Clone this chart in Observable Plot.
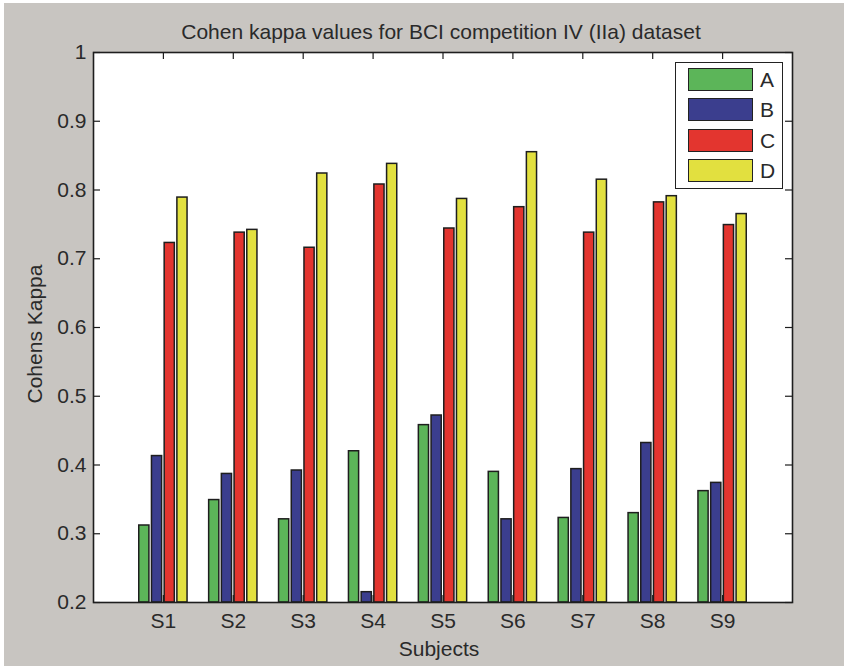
<!DOCTYPE html>
<html><head><meta charset="utf-8">
<script src="https://cdn.jsdelivr.net/npm/d3@7"></script>
<script src="https://cdn.jsdelivr.net/npm/@observablehq/plot@0.6"></script>
<style>
html,body{margin:0;padding:0;background:#c8c5c1;}
#wrap{position:relative;width:844px;height:666px;background:#c8c5c1;overflow:hidden;font-family:"Liberation Sans",Arial,sans-serif;color:#2a2a2a;}
#wrap svg{position:absolute;left:0;top:0;}
.txt{position:absolute;font-size:21px;line-height:21px;white-space:nowrap;}
#legend{position:absolute;left:675px;top:62px;width:108px;height:127px;box-sizing:border-box;border:1.5px solid #222;background:#fff;}
.patch{position:absolute;left:12px;width:65px;height:23px;box-sizing:border-box;border:1.5px solid #222;}
.lab{position:absolute;left:84px;font-size:21px;line-height:23px;color:#2a2a2a;}
#edgeTop{position:absolute;left:0;top:0;width:844px;height:3px;background:#fff;}
#edgeLeft{position:absolute;left:0;top:0;width:4px;height:666px;background:#fff;}
</style></head>
<body><div id="wrap"></div>
<script>
// ---- data ----
const subjects = ["S1","S2","S3","S4","S5","S6","S7","S8","S9"];
const seriesNames = ["A","B","C","D"];
const valuesA = [0.312,0.349,0.321,0.420,0.458,0.390,0.323,0.330,0.362];
const valuesB = [0.413,0.387,0.392,0.215,0.472,0.321,0.394,0.432,0.374];
const valuesC = [0.723,0.738,0.716,0.808,0.744,0.775,0.738,0.782,0.749];
const valuesD = [0.789,0.742,0.824,0.838,0.787,0.855,0.815,0.791,0.765];
const seriesColors = ["#5cb559","#3b3e8e","#e3352f","#e2e03f"];
const yTicks = [0.2,0.3,0.4,0.5,0.6,0.7,0.8,0.9,1];
const yDomain = [0.2,1];
const xDomain = [0,10];
const title = "Cohen kappa values for BCI competition IV (IIa) dataset";
const xLabel = "Subjects";
const yLabel = "Cohens Kappa";

// ---- build ----
const seriesValues = [valuesA,valuesB,valuesC,valuesD];
const nS = seriesNames.length;
const groupWidth = Math.min(0.8, nS/(nS+1.5));
const barWidth = groupWidth/nS*0.8;
const positions = subjects.map((s,i)=>i+1);
const rows = [];
subjects.forEach((s,i)=>seriesNames.forEach((n,k)=>rows.push({subject:s,pos:i+1,series:n,k,value:seriesValues[k][i]})));
const center = d => d.pos + (d.k-(nS-1)/2)*groupWidth/nS;

const W=844,H=666,mL=93,mR=52,mT=52,mB=64;
const pw=W-mL-mR, ph=H-mT-mB, tl=7;
const ink="#1e1e1e";

const chart = Plot.plot({
  width:W,height:H,marginLeft:mL,marginRight:mR,marginTop:mT,marginBottom:mB,
  style:{background:"transparent",fontFamily:"'Liberation Sans',Arial,sans-serif",color:"#2a2a2a",overflow:"visible"},
  x:{domain:xDomain,axis:null},
  y:{domain:yDomain,axis:null},
  color:{domain:seriesNames,range:seriesColors},
  marks:[
    Plot.frame({fill:"#fff"}),
    Plot.rectY(rows,{x1:d=>center(d)-barWidth/2,x2:d=>center(d)+barWidth/2,y1:yDomain[0],y2:"value",fill:"series",stroke:ink,strokeWidth:1.5}),
    Plot.tickX(positions,{x:d=>d,insetTop:ph-tl,stroke:ink,strokeWidth:1.2}),
    Plot.tickX(positions,{x:d=>d,insetBottom:ph-tl,stroke:ink,strokeWidth:1.2}),
    Plot.tickY(yTicks,{y:d=>d,insetRight:pw-tl,stroke:ink,strokeWidth:1.2}),
    Plot.tickY(yTicks,{y:d=>d,insetLeft:pw-tl,stroke:ink,strokeWidth:1.2}),
    Plot.frame({stroke:ink,strokeWidth:1.6}),
    Plot.axisY({ticks:yTicks,tickSize:0,tickPadding:7,tickFormat:d3.format("~g"),fontSize:21,fill:"#2a2a2a",label:null}),
    Plot.axisX({ticks:positions,tickSize:0,tickPadding:11,tickFormat:d=>subjects[d-1],fontSize:21,fill:"#2a2a2a",label:null})
  ]
});

const wrap=document.getElementById("wrap");
wrap.appendChild(chart);
const et=document.createElement("div");et.id="edgeTop";wrap.appendChild(et);
const el=document.createElement("div");el.id="edgeLeft";wrap.appendChild(el);

function addText(t,x,y,rot){
  const d=document.createElement("div");d.className="txt";d.textContent=t;
  d.style.left=x+"px";d.style.top=y+"px";
  d.style.transform="translate(-50%,-50%)"+(rot?" rotate(-90deg)":"");
  wrap.appendChild(d);
}
addText(title,441,31,false);
addText(xLabel,439,648,false);
addText(yLabel,34,334,true);

const lg=document.createElement("div");lg.id="legend";
seriesNames.forEach((n,k)=>{
  const p=document.createElement("div");p.className="patch";p.style.top=(5+k*30.4)+"px";p.style.background=seriesColors[k];lg.appendChild(p);
  const l=document.createElement("div");l.className="lab";l.style.top=(5+k*30.4)+"px";l.textContent=n;lg.appendChild(l);
});
wrap.appendChild(lg);
</script>
</body></html>
